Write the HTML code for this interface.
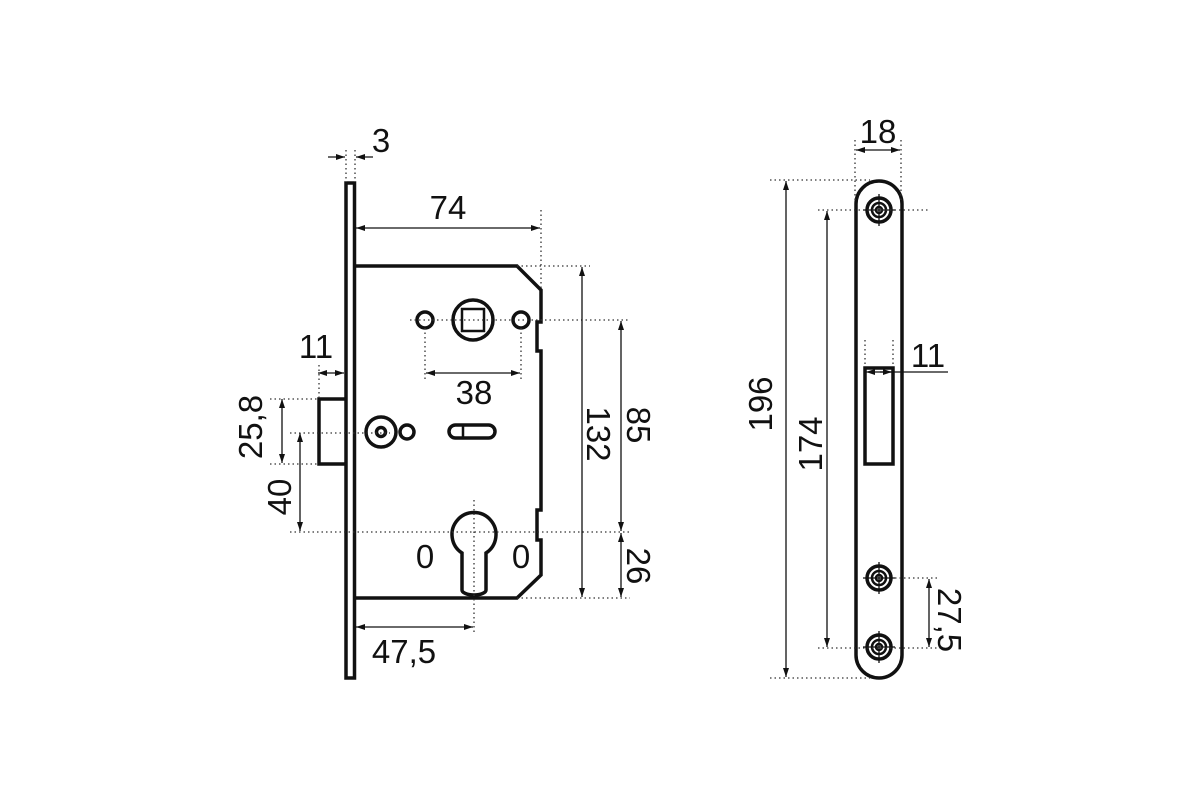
<!DOCTYPE html>
<html><head><meta charset="utf-8"><style>
html,body{margin:0;padding:0;background:#fff;}
svg{display:block;}
text{font-family:"Liberation Sans","DejaVu Sans",sans-serif;font-size:33px;fill:#111;}
.o{fill:none;stroke:#111;stroke-width:3.5;}
.t{fill:none;stroke:#111;stroke-width:2.5;}
.d{fill:none;stroke:#333;stroke-width:1.3;stroke-dasharray:1.5 3;}
.a{fill:none;stroke:#111;stroke-width:1.3;}
</style></head><body>
<svg width="1200" height="800" viewBox="0 0 1200 800" xmlns="http://www.w3.org/2000/svg">
<defs>
<marker id="ar" markerWidth="10" markerHeight="8" refX="9" refY="4" orient="auto-start-reverse" markerUnits="userSpaceOnUse">
<path d="M0,1 L9,4 L0,7 z" fill="#111"/></marker>
</defs>
<rect width="1200" height="800" fill="#fff"/>

<rect class="o" x="346" y="183" width="8.5" height="495"/>
<path class="o" d="M355,266 H517 L541,290 V322 H537 V351 H541 V510 H537 V540 H541 V575 L517,598 H355"/>
<path class="o" d="M346,399 H319 V464 H346"/>
<circle class="o" cx="473" cy="320" r="20"/>
<rect class="t" x="462" y="309" width="22" height="22"/>
<circle class="o" cx="425" cy="320" r="8"/>
<circle class="o" cx="521" cy="320" r="8"/>
<circle class="o" cx="381" cy="432" r="15"/>
<circle class="o" cx="381" cy="432" r="4.5"/>
<circle class="o" cx="407" cy="432" r="7"/>
<rect class="o" x="449" y="425" width="46" height="13" rx="6.5"/>
<line class="t" x1="463" y1="425" x2="463" y2="438"/>
<path class="o" d="M462,590 V553 A22,22 0 1 1 486,553 V590 A12,5 0 0 1 462,590 Z"/>
<text x="425" y="568" text-anchor="middle">0</text>
<text x="521" y="568" text-anchor="middle">0</text>

<line class="d" x1="346" y1="150" x2="346" y2="182"/>
<line class="d" x1="355" y1="150" x2="355" y2="182"/>
<line class="d" x1="541" y1="210" x2="541" y2="290"/>
<line class="d" x1="517" y1="266" x2="590" y2="266"/>
<line class="d" x1="410" y1="320" x2="630" y2="320"/>
<line class="d" x1="425" y1="328" x2="425" y2="380"/>
<line class="d" x1="521" y1="328" x2="521" y2="380"/>
<line class="d" x1="319" y1="365" x2="319" y2="398"/>
<line class="d" x1="270" y1="399" x2="318" y2="399"/>
<line class="d" x1="270" y1="464" x2="318" y2="464"/>
<line class="d" x1="290" y1="433" x2="390" y2="433"/>
<line class="d" x1="290" y1="532" x2="630" y2="532"/>
<line class="d" x1="474" y1="500" x2="474" y2="634"/>
<line class="d" x1="517" y1="598" x2="630" y2="598"/>

<line class="a" x1="328" y1="157" x2="345" y2="157" marker-end="url(#ar)"/>
<line class="a" x1="373" y1="157" x2="356" y2="157" marker-end="url(#ar)"/>
<text x="381" y="152" text-anchor="middle">3</text>
<line class="a" x1="356" y1="228" x2="540" y2="228" marker-start="url(#ar)" marker-end="url(#ar)"/>
<text x="448" y="219" text-anchor="middle">74</text>
<line class="a" x1="318" y1="373" x2="344" y2="373" marker-start="url(#ar)" marker-end="url(#ar)"/>
<text x="316" y="358" text-anchor="middle">11</text>
<line class="a" x1="426" y1="373" x2="520" y2="373" marker-start="url(#ar)" marker-end="url(#ar)"/>
<text x="474" y="404" text-anchor="middle">38</text>
<line class="a" x1="282" y1="399" x2="282" y2="463" marker-start="url(#ar)" marker-end="url(#ar)"/>
<text transform="translate(262,427) rotate(-90)" text-anchor="middle">25,8</text>
<line class="a" x1="300" y1="433" x2="300" y2="531" marker-start="url(#ar)" marker-end="url(#ar)"/>
<text transform="translate(291,497) rotate(-90)" text-anchor="middle">40</text>
<line class="a" x1="582" y1="267" x2="582" y2="597" marker-start="url(#ar)" marker-end="url(#ar)"/>
<text transform="translate(587,434) rotate(90)" text-anchor="middle">132</text>
<line class="a" x1="621" y1="321" x2="621" y2="531" marker-start="url(#ar)" marker-end="url(#ar)"/>
<text transform="translate(627,425) rotate(90)" text-anchor="middle">85</text>
<line class="a" x1="621" y1="533" x2="621" y2="597" marker-start="url(#ar)" marker-end="url(#ar)"/>
<text transform="translate(627,566) rotate(90)" text-anchor="middle">26</text>
<line class="a" x1="356" y1="627" x2="473" y2="627" marker-start="url(#ar)" marker-end="url(#ar)"/>
<text x="404" y="663" text-anchor="middle">47,5</text>

<rect class="o" x="856" y="181" width="46" height="497" rx="23"/>
<rect class="o" x="865" y="368" width="28" height="96"/>
<g>
<circle class="o" cx="879" cy="210" r="12"/><circle class="t" cx="879" cy="210" r="7"/><circle class="t" cx="879" cy="210" r="3"/>
<circle class="o" cx="879" cy="578" r="12"/><circle class="t" cx="879" cy="578" r="7"/><circle class="t" cx="879" cy="578" r="3"/>
<circle class="o" cx="879" cy="647" r="12"/><circle class="t" cx="879" cy="647" r="7"/><circle class="t" cx="879" cy="647" r="3"/>
<line class="a" x1="879" y1="194" x2="879" y2="226"/><line class="a" x1="863" y1="210" x2="895" y2="210"/>
<line class="a" x1="879" y1="562" x2="879" y2="594"/><line class="a" x1="863" y1="578" x2="895" y2="578"/>
<line class="a" x1="879" y1="631" x2="879" y2="663"/><line class="a" x1="863" y1="647" x2="895" y2="647"/>
</g>
<line class="d" x1="855" y1="140" x2="855" y2="200"/>
<line class="d" x1="901" y1="140" x2="901" y2="200"/>
<line class="d" x1="770" y1="180" x2="870" y2="180"/>
<line class="d" x1="818" y1="210" x2="930" y2="210"/>
<line class="d" x1="895" y1="578" x2="940" y2="578"/>
<line class="d" x1="818" y1="648" x2="940" y2="648"/>
<line class="d" x1="770" y1="678" x2="870" y2="678"/>
<line class="d" x1="865" y1="340" x2="865" y2="367"/>
<line class="d" x1="893" y1="340" x2="893" y2="367"/>
<line class="a" x1="856" y1="150" x2="900" y2="150" marker-start="url(#ar)" marker-end="url(#ar)"/>
<text x="878" y="143" text-anchor="middle">18</text>
<line class="a" x1="866" y1="372" x2="948" y2="372" marker-start="url(#ar)"/>
<line class="a" x1="880" y1="372" x2="892" y2="372" marker-end="url(#ar)"/>
<text x="928" y="367" text-anchor="middle">11</text>
<line class="a" x1="786" y1="181" x2="786" y2="677" marker-start="url(#ar)" marker-end="url(#ar)"/>
<text transform="translate(772,404) rotate(-90)" text-anchor="middle">196</text>
<line class="a" x1="827" y1="211" x2="827" y2="647" marker-start="url(#ar)" marker-end="url(#ar)"/>
<text transform="translate(822,444) rotate(-90)" text-anchor="middle">174</text>
<line class="a" x1="929" y1="579" x2="929" y2="647" marker-start="url(#ar)" marker-end="url(#ar)"/>
<text transform="translate(938,620) rotate(90)" text-anchor="middle">27,5</text>
</svg>
</body></html>
